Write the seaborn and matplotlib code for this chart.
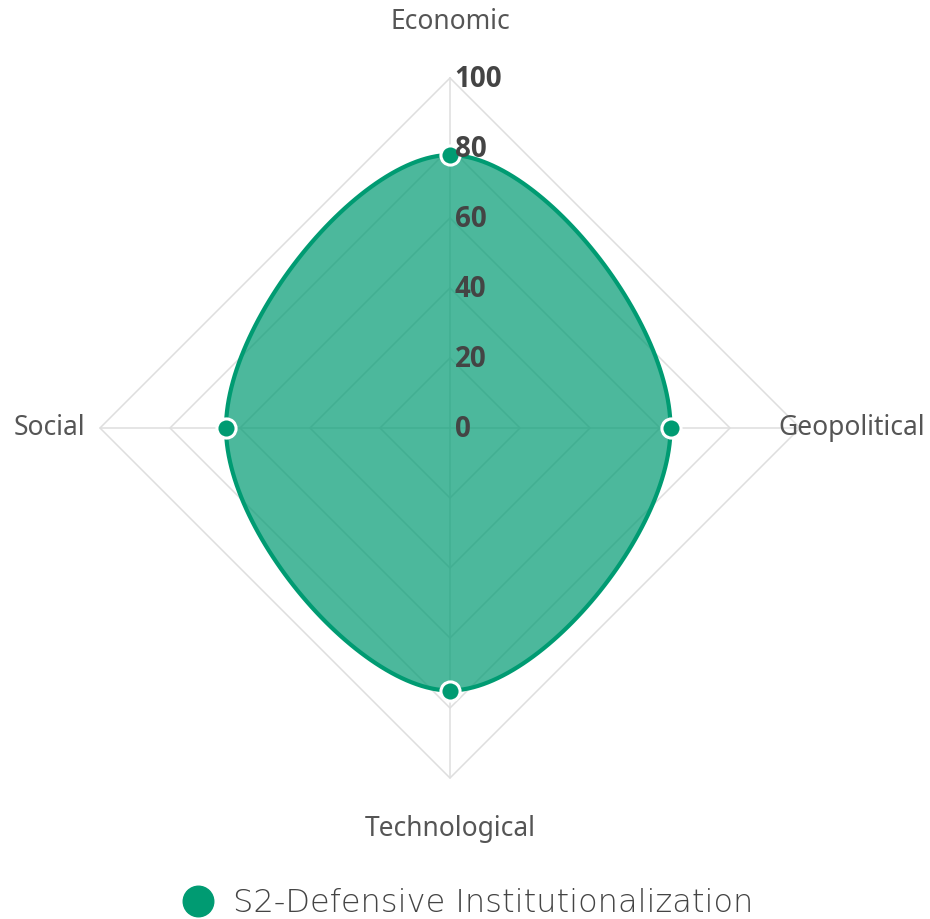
import numpy as np
import pandas as pd
import seaborn as sns
import matplotlib.pyplot as plt
from matplotlib.lines import Line2D

# data
axes_labels = ["Economic", "Geopolitical", "Technological", "Social"]
values = [78, 63, 75, 64]
ticks = [0, 20, 40, 60, 80, 100]
series_name = "S2-Defensive Institutionalization"

GREEN = "#009b72"
GRID = "#dedede"
TEXT = "#555555"
TENSION = 0.4

sns.set_theme(style="white")
plt.rcParams["font.family"] = ["Noto Sans", "DejaVu Sans"]

# angles: top, right, bottom, left (clockwise like chart.js)
angles = np.pi / 2 - np.arange(len(axes_labels)) * 2 * np.pi / len(axes_labels)


def to_xy(r):
    return np.array([[v * np.cos(a), v * np.sin(a)] for v, a in zip(r, angles)])


def spline_closed(pts, t=TENSION, n=60):
    # chart.js style cardinal spline through the points
    k = len(pts)
    cps = []
    for i in range(k):
        prev, cur, nxt = pts[i - 1], pts[i], pts[(i + 1) % k]
        d01 = np.linalg.norm(cur - prev)
        d12 = np.linalg.norm(nxt - cur)
        fa = t * d01 / (d01 + d12)
        fb = t * d12 / (d01 + d12)
        cps.append((cur - fa * (nxt - prev), cur + fb * (nxt - prev)))
    out = []
    s = np.linspace(0, 1, n)[:, None]
    for i in range(k):
        p0, p3 = pts[i], pts[(i + 1) % k]
        p1, p2 = cps[i][1], cps[(i + 1) % k][0]
        seg = ((1 - s) ** 3) * p0 + 3 * ((1 - s) ** 2) * s * p1 + 3 * (1 - s) * s ** 2 * p2 + s ** 3 * p3
        out.append(seg if i == k - 1 else seg[:-1])
    return np.vstack(out)


W, H = 930, 919
cx, cy = 450, 428
scale = 3.5
fig = plt.figure(figsize=(W / 100, H / 100), dpi=100)
ax = fig.add_axes([0, 0, 1, 1])
ax.set_xlim(-cx / scale, (W - cx) / scale)
ax.set_ylim(-(H - cy) / scale, cy / scale)
ax.set_aspect("equal")
ax.axis("off")

# grid rings and spokes
for r in ticks[1:]:
    ring = to_xy([r] * len(axes_labels))
    ring = np.vstack([ring, ring[:1]])
    ax.plot(ring[:, 0], ring[:, 1], color=GRID, lw=1.1, zorder=1)
outer = to_xy([ticks[-1]] * len(axes_labels))
for px, py in outer:
    ax.plot([0, px], [0, py], color=GRID, lw=1.1, zorder=1)

# the series
pts = to_xy(values)
curve = spline_closed(pts)
ax.fill(curve[:, 0], curve[:, 1], color=GREEN, alpha=0.7, lw=0, zorder=2)
df_curve = pd.DataFrame({"x": curve[:, 0], "y": curve[:, 1]})
sns.lineplot(data=df_curve, x="x", y="y", sort=False, estimator=None,
             color=GREEN, lw=3, ax=ax, zorder=3)
df_pts = pd.DataFrame({"x": pts[:, 0], "y": pts[:, 1], "axis": axes_labels})
sns.scatterplot(data=df_pts, x="x", y="y", s=190, color=GREEN,
                edgecolor="white", linewidth=2.2, ax=ax, zorder=4, legend=False)

# tick labels
for r in ticks:
    ax.text(1.3, r - 0.3, str(r), ha="left", va="center", fontsize=20,
            fontweight="bold", family=["Open Sans", "DejaVu Sans"],
            color="#444444", zorder=5)

# axis labels
lab = dict(va="center", fontsize=19, color=TEXT)
ax.text(0, 116, axes_labels[0], ha="center", **lab)
ax.text(93.7, 0, axes_labels[1], ha="left", **lab)
ax.text(0, -114.5, axes_labels[2], ha="center", **lab)
ax.text(-104.3, 0, axes_labels[3], ha="right", **lab)

# legend
handle = Line2D([], [], marker="o", ls="", color=GREEN, markersize=22)
leg = fig.legend([handle], [series_name], loc="center",
                 bbox_to_anchor=(466 / W, 1 - 903 / H), frameon=False,
                 handletextpad=0.5, handlelength=1.2,
                 prop={"family": "DejaVu Sans", "weight": "light", "size": 23})
for t in leg.get_texts():
    t.set_color("#444444")

fig.savefig("out.png", dpi=100)
